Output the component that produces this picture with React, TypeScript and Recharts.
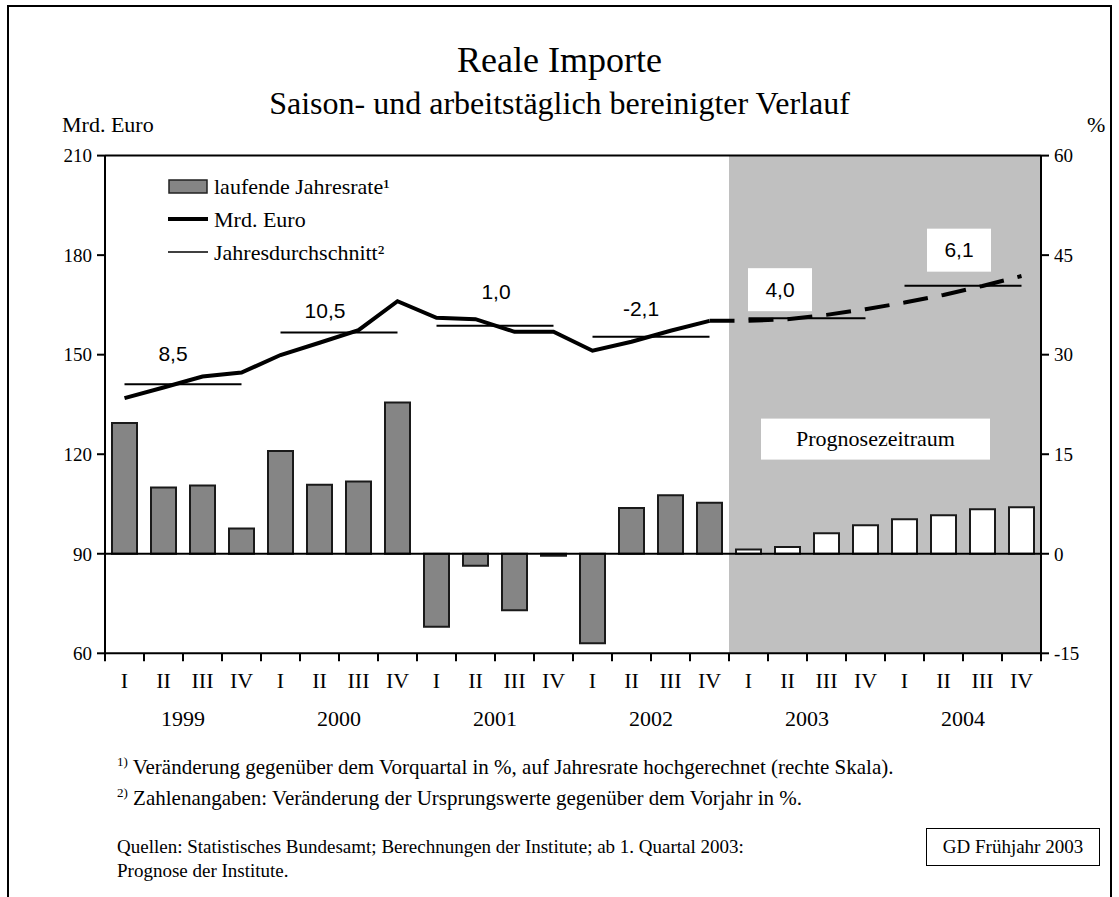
import { Bar, Cell, ComposedChart, Legend, Line, ReferenceArea, ReferenceLine, XAxis, YAxis } from "recharts";

// Werte
const YEARS = ["1999", "2000", "2001", "2002", "2003", "2004"];
const QUARTERS = ["I", "II", "III", "IV"];
// laufende Jahresrate in % (rechte Skala)
const RATE = [19.7, 10.0, 10.3, 3.8, 15.5, 10.4, 10.9, 22.8, -11.0, -1.8, -8.5, -0.3, -13.5, 6.9, 8.8, 7.7, 0.65, 1.0, 3.1, 4.3, 5.2, 5.8, 6.7, 7.0];
// Mrd. Euro (linke Skala)
const LEVEL = [136.9, 140.1, 143.4, 144.6, 149.9, 153.6, 157.4, 166.1, 161.1, 160.7, 156.9, 156.9, 151.2, 153.9, 157.2, 160.2, 160.2, 160.7, 162.0, 163.7, 165.7, 168.0, 170.7, 173.7];
const ANNUAL_AVG = [141.1, 156.7, 158.7, 155.4, 161.0, 170.8];
const ANNUAL_CHANGE = ["8,5", "10,5", "1,0", "-2,1", "4,0", "6,1"];
const FORECAST_FROM = 16; // ab 1. Quartal 2003

const LEFT_TICKS = [60, 90, 120, 150, 180, 210];
const RIGHT_TICKS = [-15, 0, 15, 30, 45, 60];

const SERIF = "'Liberation Serif', 'Times New Roman', serif";
const SANS = "'Liberation Sans', Arial, sans-serif";
const BAR_GRAY = "#858585";
const SHADE = "#c0c0c0";

// label nudges (px), per year
const LABEL_DX = [-10, -14, 1, -10, -27, -4];
const LABEL_DY = [31, 22, 34, 28, 29, 36];

const data = YEARS.flatMap((year, y) =>
  QUARTERS.map((q, i) => {
    const idx = y * 4 + i;
    return {
      key: `${q}-${year}`,
      rate: RATE[idx],
      level: idx < FORECAST_FROM ? LEVEL[idx] : null,
      forecast: idx >= FORECAST_FROM - 1 ? LEVEL[idx] : null,
      isForecast: idx >= FORECAST_FROM,
    };
  })
);

const W = 1119;
const H = 897;
const BAND = (1041 - 105) / data.length;

function QuarterTick(props: any) {
  const { x, y, payload, index } = props;
  const half = payload?.offset || BAND / 2;
  const [q, year] = String(payload.value).split("-");
  const last = index === data.length - 1;
  return (
    <g>
      <line x1={x - half} x2={x - half} y1={y} y2={y + 8} stroke="#000" strokeWidth={2} />
      {last && <line x1={x + half} x2={x + half} y1={y} y2={y + 8} stroke="#000" strokeWidth={2} />}
      <text x={x} y={y + 27} textAnchor="middle" dominantBaseline="central" fontFamily={SERIF} fontSize={22} fill="#000">
        {q}
      </text>
      {q === "II" && (
        <text x={x + half} y={y + 65} textAnchor="middle" dominantBaseline="central" fontFamily={SERIF} fontSize={22} fill="#000">
          {year}
        </text>
      )}
    </g>
  );
}

const annualLabel = (i: number) => (props: any) => {
  const vb = props.viewBox || {};
  const cx = vb.x + vb.width / 2 + LABEL_DX[i];
  const cy = vb.y - LABEL_DY[i];
  const boxed = i * 4 >= FORECAST_FROM;
  return (
    <g>
      {boxed && <rect x={cx - 32} y={cy - 21} width={64} height={43} fill="#fff" />}
      <text x={cx} y={cy} textAnchor="middle" dominantBaseline="central" fontFamily={SANS} fontSize={21} fill="#000">
        {ANNUAL_CHANGE[i]}
      </text>
    </g>
  );
};

const forecastLabel = (props: any) => {
  const vb = props.viewBox || {};
  const bx = vb.x + 32;
  const by = vb.y + 263;
  return (
    <g>
      <rect x={bx} y={by} width={229} height={41} fill="#fff" />
      <text x={bx + 114.5} y={by + 20} textAnchor="middle" dominantBaseline="central" fontFamily={SERIF} fontSize={22} fill="#000">
        Prognosezeitraum
      </text>
    </g>
  );
};

function LegendContent() {
  const rows = [
    { label: "laufende Jahresrate¹", kind: "bar" },
    { label: "Mrd. Euro", kind: "thick" },
    { label: "Jahresdurchschnitt²", kind: "thin" },
  ];
  return (
    <div style={{ fontFamily: SERIF, fontSize: 22, color: "#000" }}>
      {rows.map((r) => (
        <div key={r.label} style={{ display: "flex", alignItems: "center", height: 33, whiteSpace: "nowrap" }}>
          <svg width={42} height={33} style={{ marginRight: 4 }}>
            {r.kind === "bar" && <rect x={1} y={10} width={38} height={13} fill={BAR_GRAY} stroke="#222" strokeWidth={1.5} />}
            {r.kind === "thick" && <line x1={0} x2={40} y1={16} y2={16} stroke="#000" strokeWidth={4} />}
            {r.kind === "thin" && <line x1={0} x2={40} y1={16} y2={16} stroke="#000" strokeWidth={1.5} />}
          </svg>
          <span>{r.label}</span>
        </div>
      ))}
    </div>
  );
}

const noteStyle = { position: "absolute" as const, left: 117, fontFamily: SERIF, lineHeight: "24px", whiteSpace: "nowrap" as const };

export default function App() {
  return (
    <div style={{ position: "absolute", left: 0, top: 0, width: W, height: H, background: "#fff", overflow: "hidden" }}>
      <div style={{ position: "absolute", left: 7, top: 5, width: 1105, height: 910, border: "2px solid #000", boxSizing: "border-box" }} />

      <div style={{ position: "absolute", left: 0, top: 41, width: W, textAlign: "center", fontFamily: SERIF, fontSize: 36, lineHeight: "38px" }}>
        Reale Importe
      </div>
      <div style={{ position: "absolute", left: 0, top: 86, width: W, textAlign: "center", fontFamily: SERIF, fontSize: 32, lineHeight: "34px" }}>
        Saison- und arbeitstäglich bereinigter Verlauf
      </div>
      <div style={{ position: "absolute", left: 62, top: 113, fontFamily: SERIF, fontSize: 22, lineHeight: "24px" }}>Mrd. Euro</div>
      <div style={{ position: "absolute", left: 1087, top: 113, fontFamily: SERIF, fontSize: 22, lineHeight: "24px" }}>%</div>

      <div style={{ position: "absolute", left: 0, top: 0 }}>
        <ComposedChart width={W} height={H} data={data} margin={{ top: 155.6, right: 18, bottom: 203.7, left: 45 }}>
          <ReferenceArea x1="I-2003" x2="IV-2004" yAxisId="left" fill={SHADE} fillOpacity={1} stroke="none" label={forecastLabel} />
          <XAxis
            dataKey="key"
            interval={0}
            height={40}
            tickSize={0}
            tickMargin={0}
            tickLine={false}
            axisLine={{ stroke: "#000", strokeWidth: 2 }}
            tick={<QuarterTick />}
          />
          <YAxis
            yAxisId="left"
            width={60}
            domain={[60, 210]}
            ticks={LEFT_TICKS}
            interval={0}
            tickSize={8}
            tickMargin={5}
            axisLine={{ stroke: "#000", strokeWidth: 2 }}
            tickLine={{ stroke: "#000", strokeWidth: 2 }}
            tick={{ fill: "#000", fontSize: 19, fontFamily: SERIF }}
          />
          <YAxis
            yAxisId="right"
            orientation="right"
            width={60}
            domain={[-15, 60]}
            ticks={RIGHT_TICKS}
            interval={0}
            tickSize={8}
            tickMargin={5}
            axisLine={{ stroke: "#000", strokeWidth: 2 }}
            tickLine={{ stroke: "#000", strokeWidth: 2 }}
            tick={{ fill: "#000", fontSize: 19, fontFamily: SERIF }}
          />
          <ReferenceLine yAxisId="left" y={210} stroke="#000" strokeWidth={2} />
          <Bar dataKey="rate" yAxisId="right" barSize={25} stroke="#1a1a1a" strokeWidth={2} isAnimationActive={false}>
            {data.map((d) => (
              <Cell key={d.key} fill={d.isForecast ? "#fff" : BAR_GRAY} />
            ))}
          </Bar>
          <ReferenceLine yAxisId="right" y={0} stroke="#000" strokeWidth={2} />
          {YEARS.map((year, i) => (
            <ReferenceLine
              key={year}
              yAxisId="left"
              segment={[
                { x: `I-${year}`, y: ANNUAL_AVG[i] },
                { x: `IV-${year}`, y: ANNUAL_AVG[i] },
              ]}
              stroke="#000"
              strokeWidth={2}
              label={annualLabel(i)}
            />
          ))}
          <Line dataKey="level" yAxisId="left" type="linear" stroke="#000" strokeWidth={4} dot={false} activeDot={false} isAnimationActive={false} />
          <Line
            dataKey="forecast"
            yAxisId="left"
            type="linear"
            stroke="#000"
            strokeWidth={4}
            strokeDasharray="25 14"
            dot={false}
            activeDot={false}
            isAnimationActive={false}
          />
          <Legend layout="vertical" align="center" verticalAlign="middle" wrapperStyle={{ left: 168, top: 170, width: "auto" }} content={<LegendContent />} />
        </ComposedChart>
      </div>

      <div style={{ ...noteStyle, top: 750, fontSize: 21 }}>
        <sup style={{ fontSize: 13 }}>1)</sup> Veränderung gegenüber dem Vorquartal in %, auf Jahresrate hochgerechnet (rechte Skala).
      </div>
      <div style={{ ...noteStyle, top: 781, fontSize: 21 }}>
        <sup style={{ fontSize: 13 }}>2)</sup> Zahlenangaben: Veränderung der Ursprungswerte gegenüber dem Vorjahr in %.
      </div>
      <div style={{ ...noteStyle, top: 835, fontSize: 19 }}>
        Quellen: Statistisches Bundesamt; Berechnungen der Institute; ab 1. Quartal 2003:
        <br />
        Prognose der Institute.
      </div>
      <div
        style={{
          position: "absolute",
          left: 926,
          top: 828,
          width: 174,
          height: 38,
          border: "1.5px solid #000",
          boxSizing: "border-box",
          fontFamily: SERIF,
          fontSize: 19,
          display: "flex",
          alignItems: "center",
          justifyContent: "center",
        }}
      >
        GD Frühjahr 2003
      </div>
    </div>
  );
}
